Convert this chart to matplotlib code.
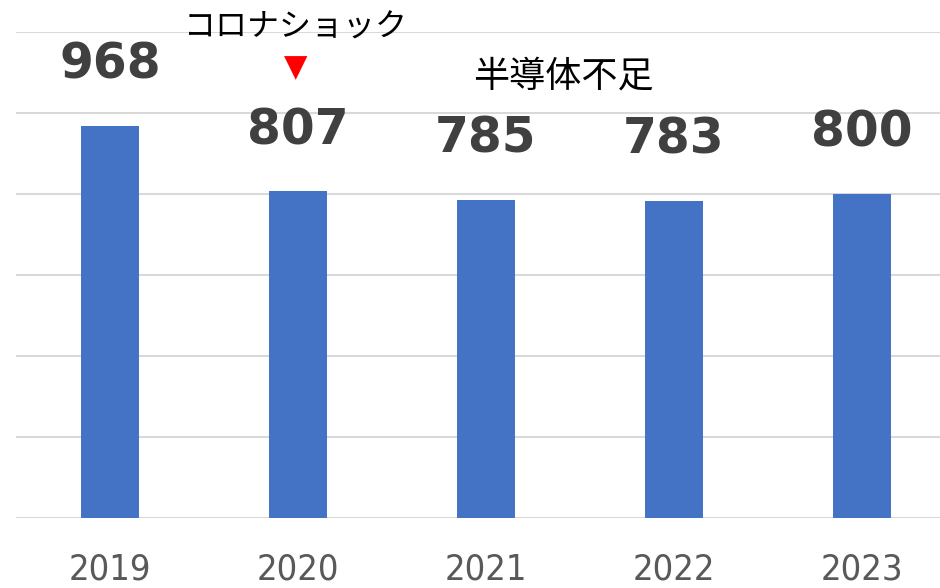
import matplotlib
matplotlib.use("Agg")
import matplotlib.pyplot as plt

years = ["2019", "2020", "2021", "2022", "2023"]
values = [968, 807, 785, 783, 800]
yticks = [0, 200, 400, 600, 800, 1000, 1200]
note_corona = "コロナショック"
note_chip = "半導体不足"

plt.rcParams['font.family'] = ['DejaVu Sans']

fig = plt.figure(figsize=(9.4, 5.88), dpi=100)
ax = fig.add_axes([16/940, 70/588, 940/940, 486/588])

x = list(range(len(years)))
ax.bar(x, values, width=0.31, color="#4472C4", zorder=3)
ax.set_xlim(-0.5, 4.5)
ax.set_ylim(0, 1200)
ax.set_yticks(yticks)
ax.yaxis.grid(True, color="#d9d9d9", linewidth=1.5, zorder=0)
ax.set_axisbelow(True)
for s in ax.spines.values():
    s.set_visible(False)
ax.tick_params(axis='y', left=False, labelleft=False)
ax.tick_params(axis='x', bottom=False, pad=21)
ax.set_xticks(x)
ax.set_xticklabels(years, fontsize=26, color="#595959", fontstretch='condensed')

for xi, v in zip(x, values):
    ax.annotate(str(v), (xi, v), xytext=(0, 44), textcoords='offset points',
                ha='center', va='center', fontsize=35, fontweight='bold',
                color="#404040")

ax.text(0.99, 1212, note_corona, ha='center', va='center', fontsize=23,
        family=['Noto Sans CJK JP', 'DejaVu Sans'], color='black', clip_on=False)
ax.text(0.99, 1113, "▼", ha='center', va='center', fontsize=22, color='#ff0000')
ax.text(2.41, 1091, note_chip, ha='center', va='center', fontsize=26,
        family=['Noto Sans CJK JP', 'DejaVu Sans'], color='black')

fig.savefig("out.png", dpi=100)
